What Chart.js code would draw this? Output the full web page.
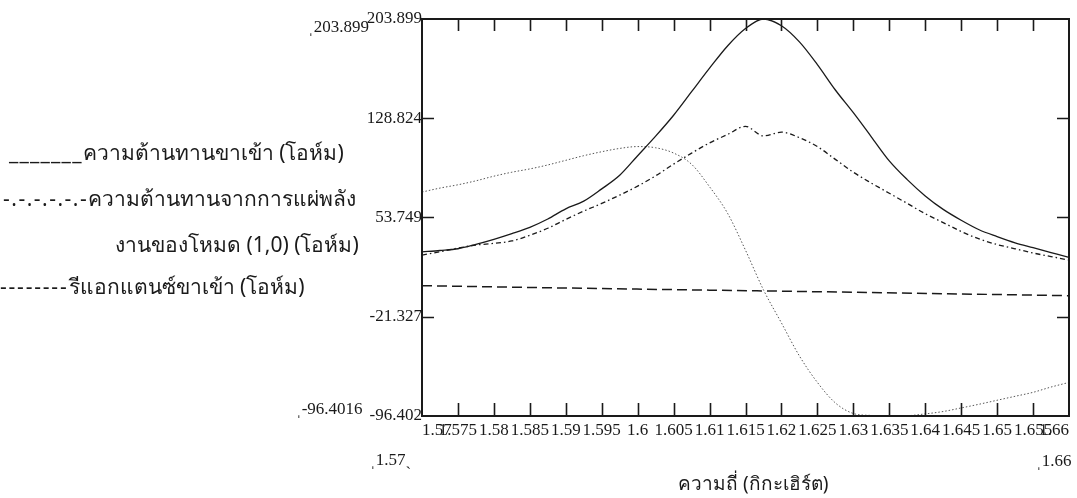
<!DOCTYPE html>
<html lang="th"><head>
<meta charset="utf-8">
<title>Input impedance chart</title>
<style type="text/css">
body  { margin:0; background:#ffffff; color:#1a1a1a; overflow:hidden; }
#wrap { position:absolute; left:0; top:0; width:1077px; height:498px; }
.t    { position:absolute; white-space:nowrap; line-height:30px; }
.th   { font-family:"Noto Sans",sans-serif; font-size:21px; }
.ttl  { font-family:"Noto Sans",sans-serif; font-size:19px; line-height:24px; }
.num  { font-family:"Liberation Serif",serif; font-size:17px; line-height:24px; }
</style>
<script src="https://cdn.jsdelivr.net/npm/chart.js@4"></script>
<script>

// frequency (GHz)
var freq=[1.57,1.5725,1.575,1.5775,1.58,1.5825,1.585,1.5875,1.59,1.5925,1.595,1.5975,1.6,1.6025,1.605,1.6075,
  1.61,1.6125,1.615,1.6175,1.62,1.6225,1.625,1.6275,1.63,1.6325,1.635,1.6375,1.64,1.6425,1.645,1.6475,1.65,
  1.6525,1.655,1.6575,1.66];
// input resistance (ohm), solid
var inputRes=[27.8,28.8,30.1,33.4,37.2,41.5,46.3,52.6,60.3,66.1,75.4,85.7,100.5,115.3,131.1,148.9,
  166.7,183.5,196.7,203.899,198.8,186.6,169.4,150.2,133.0,114.8,96.6,82.4,70.1,59.9,51.7,44.5,39.3,
  34.6,30.9,27.2,23.5];
// radiation resistance of mode (1,0) (ohm), dash-dot
var radRes=[25.3,27.8,30.6,32.9,34.2,36.0,40.3,45.6,52.3,58.6,64.4,70.7,77.5,85.3,94.1,102.4,
  110.2,116.5,122.7,115.5,118.3,114.1,107.4,97.7,88.0,79.8,72.1,64.4,56.6,49.9,43.2,37.5,33.3,
  30.1,26.9,24.2,21.5];
// dotted curve (no legend entry)
var dotted=[73,76,78.5,81.5,85,88,90.5,93.5,97,100.5,103.5,106,107.4,106.5,102.5,94,
  77,57,29,-1,-26,-51,-71,-86.5,-94.5,-96,-96.4,-96.2,-94.8,-93,-90.3,-87.5,-84.5,
  -81.5,-78.5,-74.5,-71];
// input reactance (ohm), dashed
var reactFreq=[1.57,1.59,1.61,1.63,1.66];
var reactance=[2.2,0.4,-1.2,-2.8,-5.4];

var xTicks=[1.57,1.575,1.58,1.585,1.59,1.595,1.6,1.605,1.61,1.615,1.62,1.625,1.63,1.635,1.64,1.645,1.65,1.655,1.66];
var xTickLabels=["1.57","1.575","1.58","1.585","1.59","1.595","1.6","1.605","1.61","1.615","1.62","1.625","1.63","1.635","1.64","1.645","1.65","1.655","1.66"];
var yTicks=[203.899,128.824,53.749,-21.327,-96.402];
var yTickLabels=["203.899","128.824","53.749","-21.327","-96.402"];

var ink='#1a1a1a';

function pts(xs,ys) { var out=[]; for (var i=0;i<xs.length;i++) { out.push({x:xs[i],y:ys[i]}); } return out; }

// box round the plot and inward tick marks on all four sides
var frame={id:'frame',afterDatasetsDraw:function(chart) {
  var a=chart.chartArea, c=chart.ctx, sx=chart.scales.x, sy=chart.scales.y, i, p;
  c.save(); c.strokeStyle=ink; c.lineWidth=1.6;
  c.beginPath();
  for (i=1;i<xTicks.length-1;i++) {
    p=Math.round(sx.getPixelForValue(xTicks[i]))+0.5;
    c.moveTo(p,a.bottom); c.lineTo(p,a.bottom-13);
    c.moveTo(p,a.top); c.lineTo(p,a.top+12); }
  for (i=1;i<yTicks.length-1;i++) {
    p=Math.round(sy.getPixelForValue(yTicks[i]))+0.5;
    c.moveTo(a.left,p); c.lineTo(a.left+12,p);
    c.moveTo(a.right,p); c.lineTo(a.right-12,p); }
  c.stroke();
  c.lineWidth=2; c.strokeRect(a.left,a.top,a.right-a.left,a.bottom-a.top);
  c.restore(); }};

function initChart() {
  var line={pointRadius:0,borderColor:ink,backgroundColor:ink,fill:false,cubicInterpolationMode:'monotone'};
  var data={datasets:[
    Object.assign({label:'ความต้านทานขาเข้า (โอห์ม)',data:pts(freq,inputRes),borderWidth:1.3},line),
    Object.assign({label:'ความต้านทานจากการแผ่พลังงานของโหมด (1,0) (โอห์ม)',data:pts(freq,radRes),
      borderWidth:1.3,borderDash:[5,3,1.5,3]},line),
    Object.assign({label:'รีแอกแตนซ์ขาเข้า (โอห์ม)',data:pts(reactFreq,reactance),
      borderWidth:1.5,borderDash:[10,5]},line),
    Object.assign({label:'dotted',data:pts(freq,dotted),borderWidth:1,borderDash:[1.5,2]},line,{borderColor:'#555555'})]};

  var config={type:'line',data:data,plugins:[frame],options:{
    responsive:true,maintainAspectRatio:false,animation:false,
    layout:{padding:{left:0,right:8,top:19,bottom:0}},
    plugins:{legend:{display:false},tooltip:{enabled:false}},
    scales:{
      x:{type:'linear',min:1.57,max:1.66,
        afterBuildTicks:function(s){ s.ticks=xTicks.map(function(v){return {value:v};}); },
        afterFit:function(s){ s.height=82; },
        grid:{display:false,drawTicks:false},border:{display:false},
        ticks:{align:'inner',autoSkip:false,maxRotation:0,padding:4,color:ink,
          font:{family:'Liberation Serif',size:17},
          callback:function(v,i){ return xTickLabels[i]; }}},
      y:{type:'linear',min:-96.402,max:203.899,
        afterBuildTicks:function(s){ s.ticks=yTicks.map(function(v){return {value:v};}); },
        afterFit:function(s){ s.width=422; },
        grid:{display:false,drawTicks:false},border:{display:false},
        ticks:{padding:0,color:ink,font:{family:'Liberation Serif',size:17},
          callback:function(v,i){ return yTickLabels[i]; }}}}}};

  new Chart(document.getElementById('chart'),config); }

</script></head>
<body onload="initChart();">
<div id="wrap"><canvas id="chart"></canvas></div>

<div class="t num" style="left:308px;top:15px;">ˌ203.899</div>
<div class="t num" style="left:296px;top:397px;">ˌ-96.4016</div>
<div class="t num" style="left:370px;top:448px;">ˌ1.57ˏ</div>
<div class="t num" style="left:1036px;top:449px;">ˌ1.66</div>

<div class="t th" style="left:9px;top:137px;"><span style="letter-spacing:1.2px">_______</span>ความต้านทานขาเข้า (โอห์ม)</div>
<div class="t th" style="left:3px;top:183px;"><span style="letter-spacing:1.5px">-.-.-.-.-.-</span>ความต้านทานจากการแผ่พลัง</div>
<div class="t th" style="left:115px;top:229px;">งานของโหมด (1,0) (โอห์ม)</div>
<div class="t th" style="left:0px;top:271px;"><span style="letter-spacing:1.8px">--------</span>รีแอกแตนซ์ขาเข้า (โอห์ม)</div>

<div class="t ttl" style="left:678px;top:471px;">ความถี่ (กิกะเฮิร์ต)</div>
</body></html>
